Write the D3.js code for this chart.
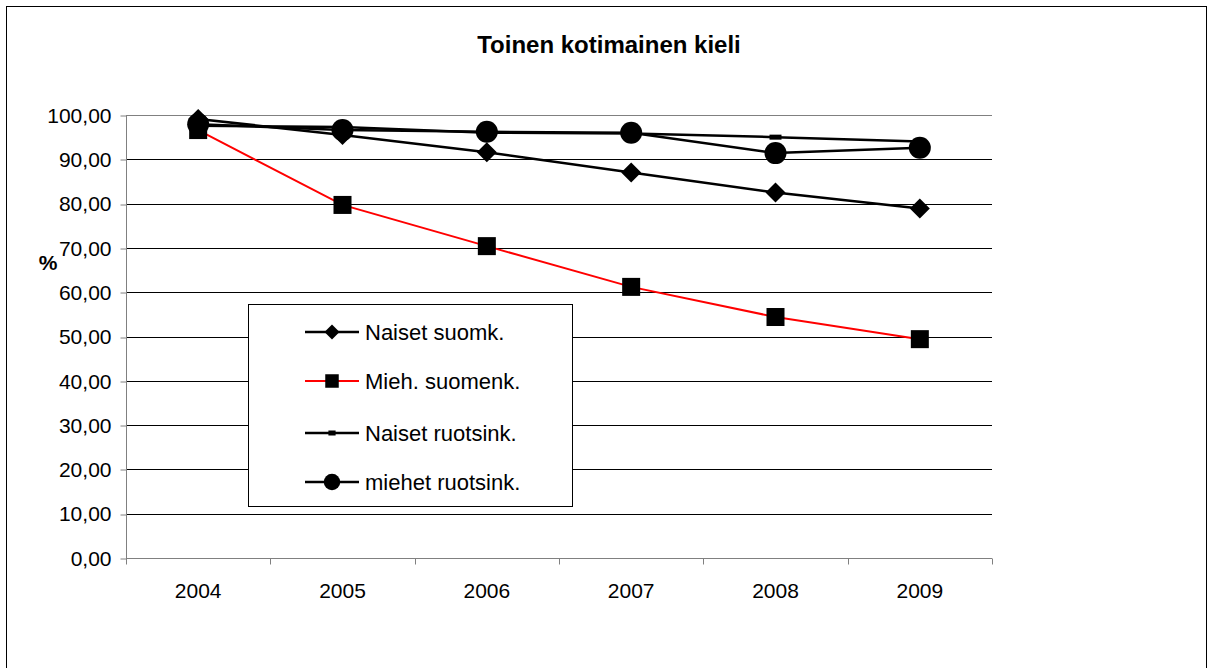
<!DOCTYPE html>
<html>
<head>
<meta charset="utf-8">
<script src="https://cdn.jsdelivr.net/npm/d3@7"></script>
<style>
  body { margin: 0; background: #fff; }
  text { font-family: Arial, "Liberation Sans", sans-serif; }
</style>
</head>
<body>
<div id="chart-area"></div>
<script>
// data
const years = ["2004", "2005", "2006", "2007", "2008", "2009"]
const naisetSuomk = [99.1, 95.5, 91.6, 87.0, 82.5, 78.9]
const miehSuomenk = [96.6, 79.7, 70.4, 61.2, 54.4, 49.4]
const naisetRuotsink = [97.6, 97.3, 96.0, 95.8, 95.0, 94.0]
const miehetRuotsink = [97.9, 96.6, 96.2, 96.0, 91.4, 92.6]
const seriesNames = ["Naiset suomk.", "Mieh. suomenk.", "Naiset ruotsink.", "miehet ruotsink."]
const yTicks = [0, 10, 20, 30, 40, 50, 60, 70, 80, 90, 100]

const series = [
  { name: seriesNames[0], values: naisetSuomk, color: "#000", marker: "diamond" },
  { name: seriesNames[1], values: miehSuomenk, color: "#ff0000", marker: "square" },
  { name: seriesNames[2], values: naisetRuotsink, color: "#000", marker: "dash" },
  { name: seriesNames[3], values: miehetRuotsink, color: "#000", marker: "circle" }
]

const W = 1208, H = 668
const PLOT = { LEFT: 126, RIGHT: 992, TOP: 115, BOTTOM: 558 }
const FONT = "21px"

const svg = d3.select("#chart-area").append("svg")
  .attr("width", W)
  .attr("height", H)

// ulkoreunus
svg.append("rect")
  .attr("x", 6.5).attr("y", 6.5)
  .attr("width", 1200).attr("height", 670)
  .attr("fill", "none")
  .attr("stroke", "#000")
  .attr("stroke-width", 1)

// otsikko
svg.append("text")
  .attr("x", 609).attr("y", 53)
  .attr("text-anchor", "middle")
  .attr("font-size", "24px")
  .attr("font-weight", "bold")
  .text("Toinen kotimainen kieli")

// skaalat
const x = d3.scaleBand().domain(years).range([PLOT.LEFT, PLOT.RIGHT])
const y = d3.scaleLinear().domain([0, 100]).range([PLOT.BOTTOM, PLOT.TOP])
const cx = d => x(d) + x.bandwidth() / 2

// ruudukko
svg.append("g")
  .selectAll("line")
  .data(yTicks.filter(t => t > 0))
  .join("line")
  .attr("x1", PLOT.LEFT).attr("x2", PLOT.RIGHT)
  .attr("y1", d => Math.round(y(d)) + 0.5)
  .attr("y2", d => Math.round(y(d)) + 0.5)
  .attr("stroke", d => d === 100 ? "#808080" : "#000")
  .attr("stroke-width", 1)

const fmt = d => d3.format(".2f")(d).replace(".", ",")

// y-akseli
const yAxis = svg.append("g")
  .attr("transform", `translate(${PLOT.LEFT + 0.5}, 0.5)`)
  .call(d3.axisLeft(y).tickValues(yTicks).tickFormat(fmt).tickSize(6).tickPadding(9))
yAxis.select(".domain").attr("stroke", "#808080").attr("d", `M0,${PLOT.TOP - 0.5}V${PLOT.BOTTOM}`)
yAxis.selectAll(".tick line").attr("stroke", "#808080").attr("transform", d => `translate(0,${Math.round(y(d)) - y(d)})`)
yAxis.selectAll(".tick text").attr("font-size", FONT).attr("fill", "#000")

// x-akseli
const xAxis = svg.append("g")
  .attr("transform", `translate(0, ${PLOT.BOTTOM + 0.5})`)
  .call(d3.axisBottom(x).tickSize(0).tickPadding(25))
xAxis.select(".domain").attr("stroke", "#808080").attr("d", `M${PLOT.LEFT},0H${PLOT.RIGHT}`)
xAxis.selectAll(".tick text").attr("font-size", FONT).attr("fill", "#000")
xAxis.append("g")
  .selectAll("line")
  .data(d3.range(years.length + 1))
  .join("line")
  .attr("x1", i => Math.round(PLOT.LEFT + i * x.step()) + 0.5)
  .attr("x2", i => Math.round(PLOT.LEFT + i * x.step()) + 0.5)
  .attr("y1", 0).attr("y2", 6)
  .attr("stroke", "#808080")

// y-akselin otsikko
svg.append("text")
  .attr("x", 48).attr("y", 270)
  .attr("text-anchor", "middle")
  .attr("font-size", FONT)
  .attr("font-weight", "bold")
  .text("%")

// merkit
function drawMarker(g, type, px, py, scale = 1) {
  if (type === "diamond") {
    const r = 10 * scale
    g.append("path")
      .attr("d", `M${px},${py - r}L${px + r},${py}L${px},${py + r}L${px - r},${py}Z`)
      .attr("fill", "#000")
  } else if (type === "square") {
    const s = 18 * scale
    g.append("rect").attr("x", px - s / 2).attr("y", py - s / 2)
      .attr("width", s).attr("height", s).attr("fill", "#000")
  } else if (type === "dash") {
    g.append("rect").attr("x", px - 6 * scale).attr("y", py - 2.5)
      .attr("width", 12 * scale).attr("height", 5).attr("fill", "#000")
  } else if (type === "circle") {
    g.append("circle").attr("cx", px).attr("cy", py).attr("r", 11 * scale).attr("fill", "#000")
  }
}

const line = d3.line()
  .x((d, i) => cx(years[i]))
  .y(d => y(d))

series.forEach(s => {
  const g = svg.append("g")
  g.append("path")
    .attr("d", line(s.values))
    .attr("fill", "none")
    .attr("stroke", s.color)
    .attr("stroke-width", s.color === "#000" ? 2.5 : 2)
  s.values.forEach((v, i) => drawMarker(g, s.marker, cx(years[i]), y(v)))
})

// selite
const legend = svg.append("g")
legend.append("rect")
  .attr("x", 248.5).attr("y", 304.5)
  .attr("width", 324).attr("height", 202)
  .attr("fill", "#fff")
  .attr("stroke", "#000")
  .attr("stroke-width", 1)

const legendY = [332, 381, 433, 482]
series.forEach((s, i) => {
  const ly = legendY[i]
  legend.append("line")
    .attr("x1", 305).attr("x2", 359)
    .attr("y1", ly).attr("y2", ly)
    .attr("stroke", s.color)
    .attr("stroke-width", s.color === "#000" ? 2.5 : 2)
  drawMarker(legend, s.marker, 332, ly, s.marker === "dash" ? 0.6 : 0.75)
  legend.append("text")
    .attr("x", 365).attr("y", ly + 8)
    .attr("font-size", "22px")
    .text(s.name)
})
</script>
</body>
</html>
